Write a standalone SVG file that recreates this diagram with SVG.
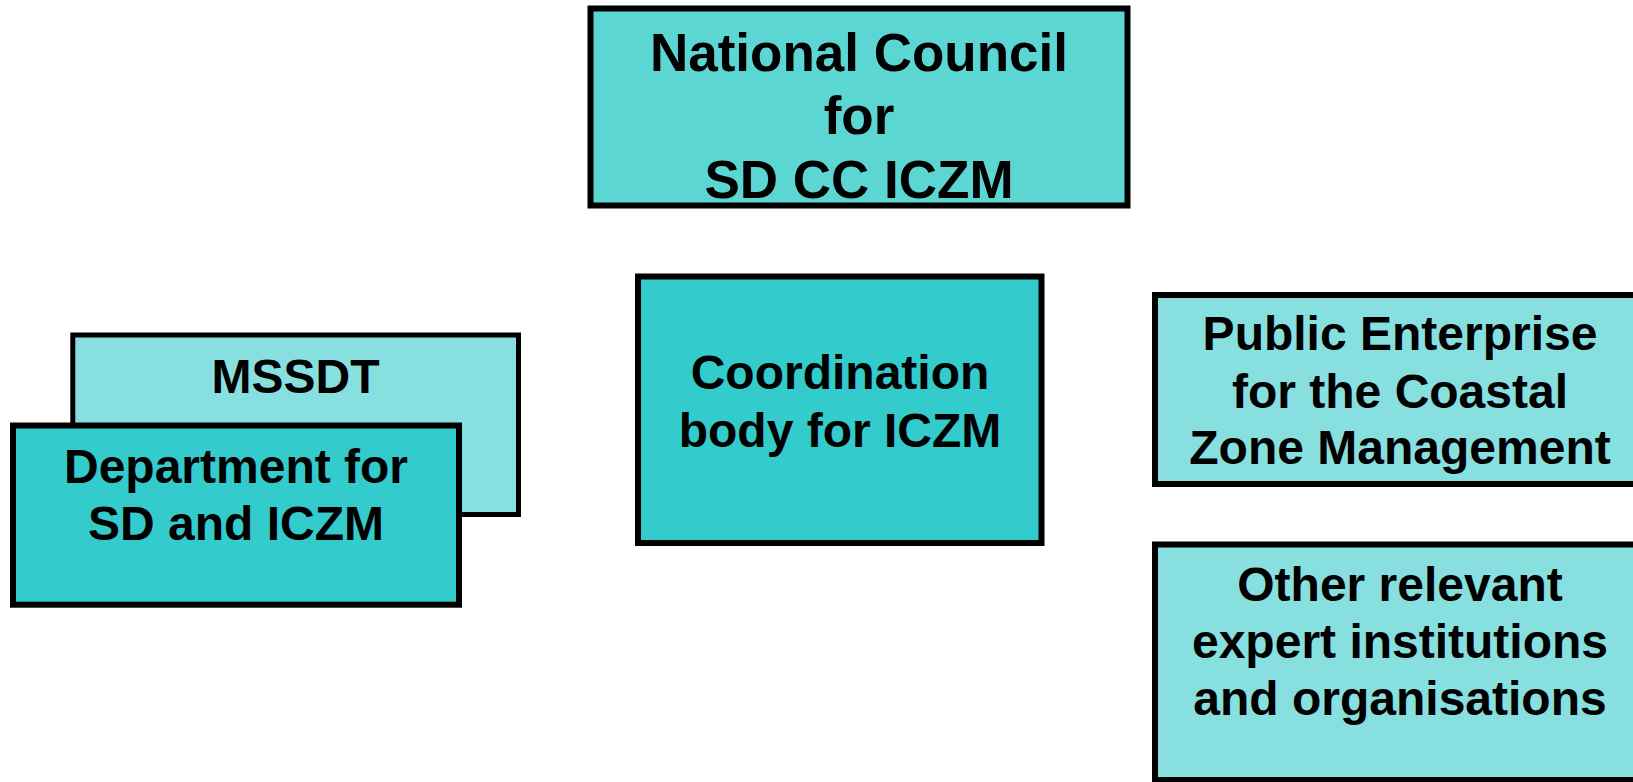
<svg xmlns="http://www.w3.org/2000/svg" width="1633" height="782" viewBox="0 0 1633 782">
<style>
.box{stroke:#000;stroke-width:6}
.mid{fill:#5CD6D3}
.dark{fill:#33CBCB}
.light{fill:#87E0DF}
.t{font-family:"Liberation Sans",Arial,sans-serif;font-weight:bold;font-size:48px;fill:#000;text-anchor:middle}
.big{font-size:53px}
</style>
<rect width="1633" height="782" fill="#fff"/>
<g id="connectors"></g>
<g id="national">
<rect class="box mid" x="590.5" y="8.5" width="537" height="197"/>
<text class="t big" x="859" y="70.5">National Council</text>
<text class="t big" x="859" y="134">for</text>
<text class="t big" x="859" y="197.5">SD CC ICZM</text>
</g>
<g id="coordination">
<rect class="box dark" x="638" y="276.5" width="403.5" height="266.5"/>
<text class="t" x="840" y="389">Coordination</text>
<text class="t" x="840" y="447">body for ICZM</text>
</g>
<g id="mssdt">
<rect class="box light" style="stroke-width:5" x="72.8" y="335" width="445.7" height="179.5"/>
<text class="t" x="295.5" y="393">MSSDT</text>
</g>
<g id="department">
<rect class="box dark" x="13" y="425.5" width="446" height="179.2"/>
<text class="t" x="236" y="483">Department for</text>
<text class="t" x="236" y="540">SD and ICZM</text>
</g>
<g id="public">
<rect class="box light" x="1155" y="295" width="500" height="189"/>
<text class="t" x="1400" y="350">Public Enterprise</text>
<text class="t" x="1400" y="407.5">for the Coastal</text>
<text class="t" x="1400" y="464">Zone Management</text>
</g>
<g id="other">
<rect class="box light" x="1155" y="544.5" width="500" height="235.5"/>
<text class="t" x="1400" y="601">Other relevant</text>
<text class="t" x="1400" y="658">expert institutions</text>
<text class="t" x="1400" y="715">and organisations</text>
</g>
</svg>
